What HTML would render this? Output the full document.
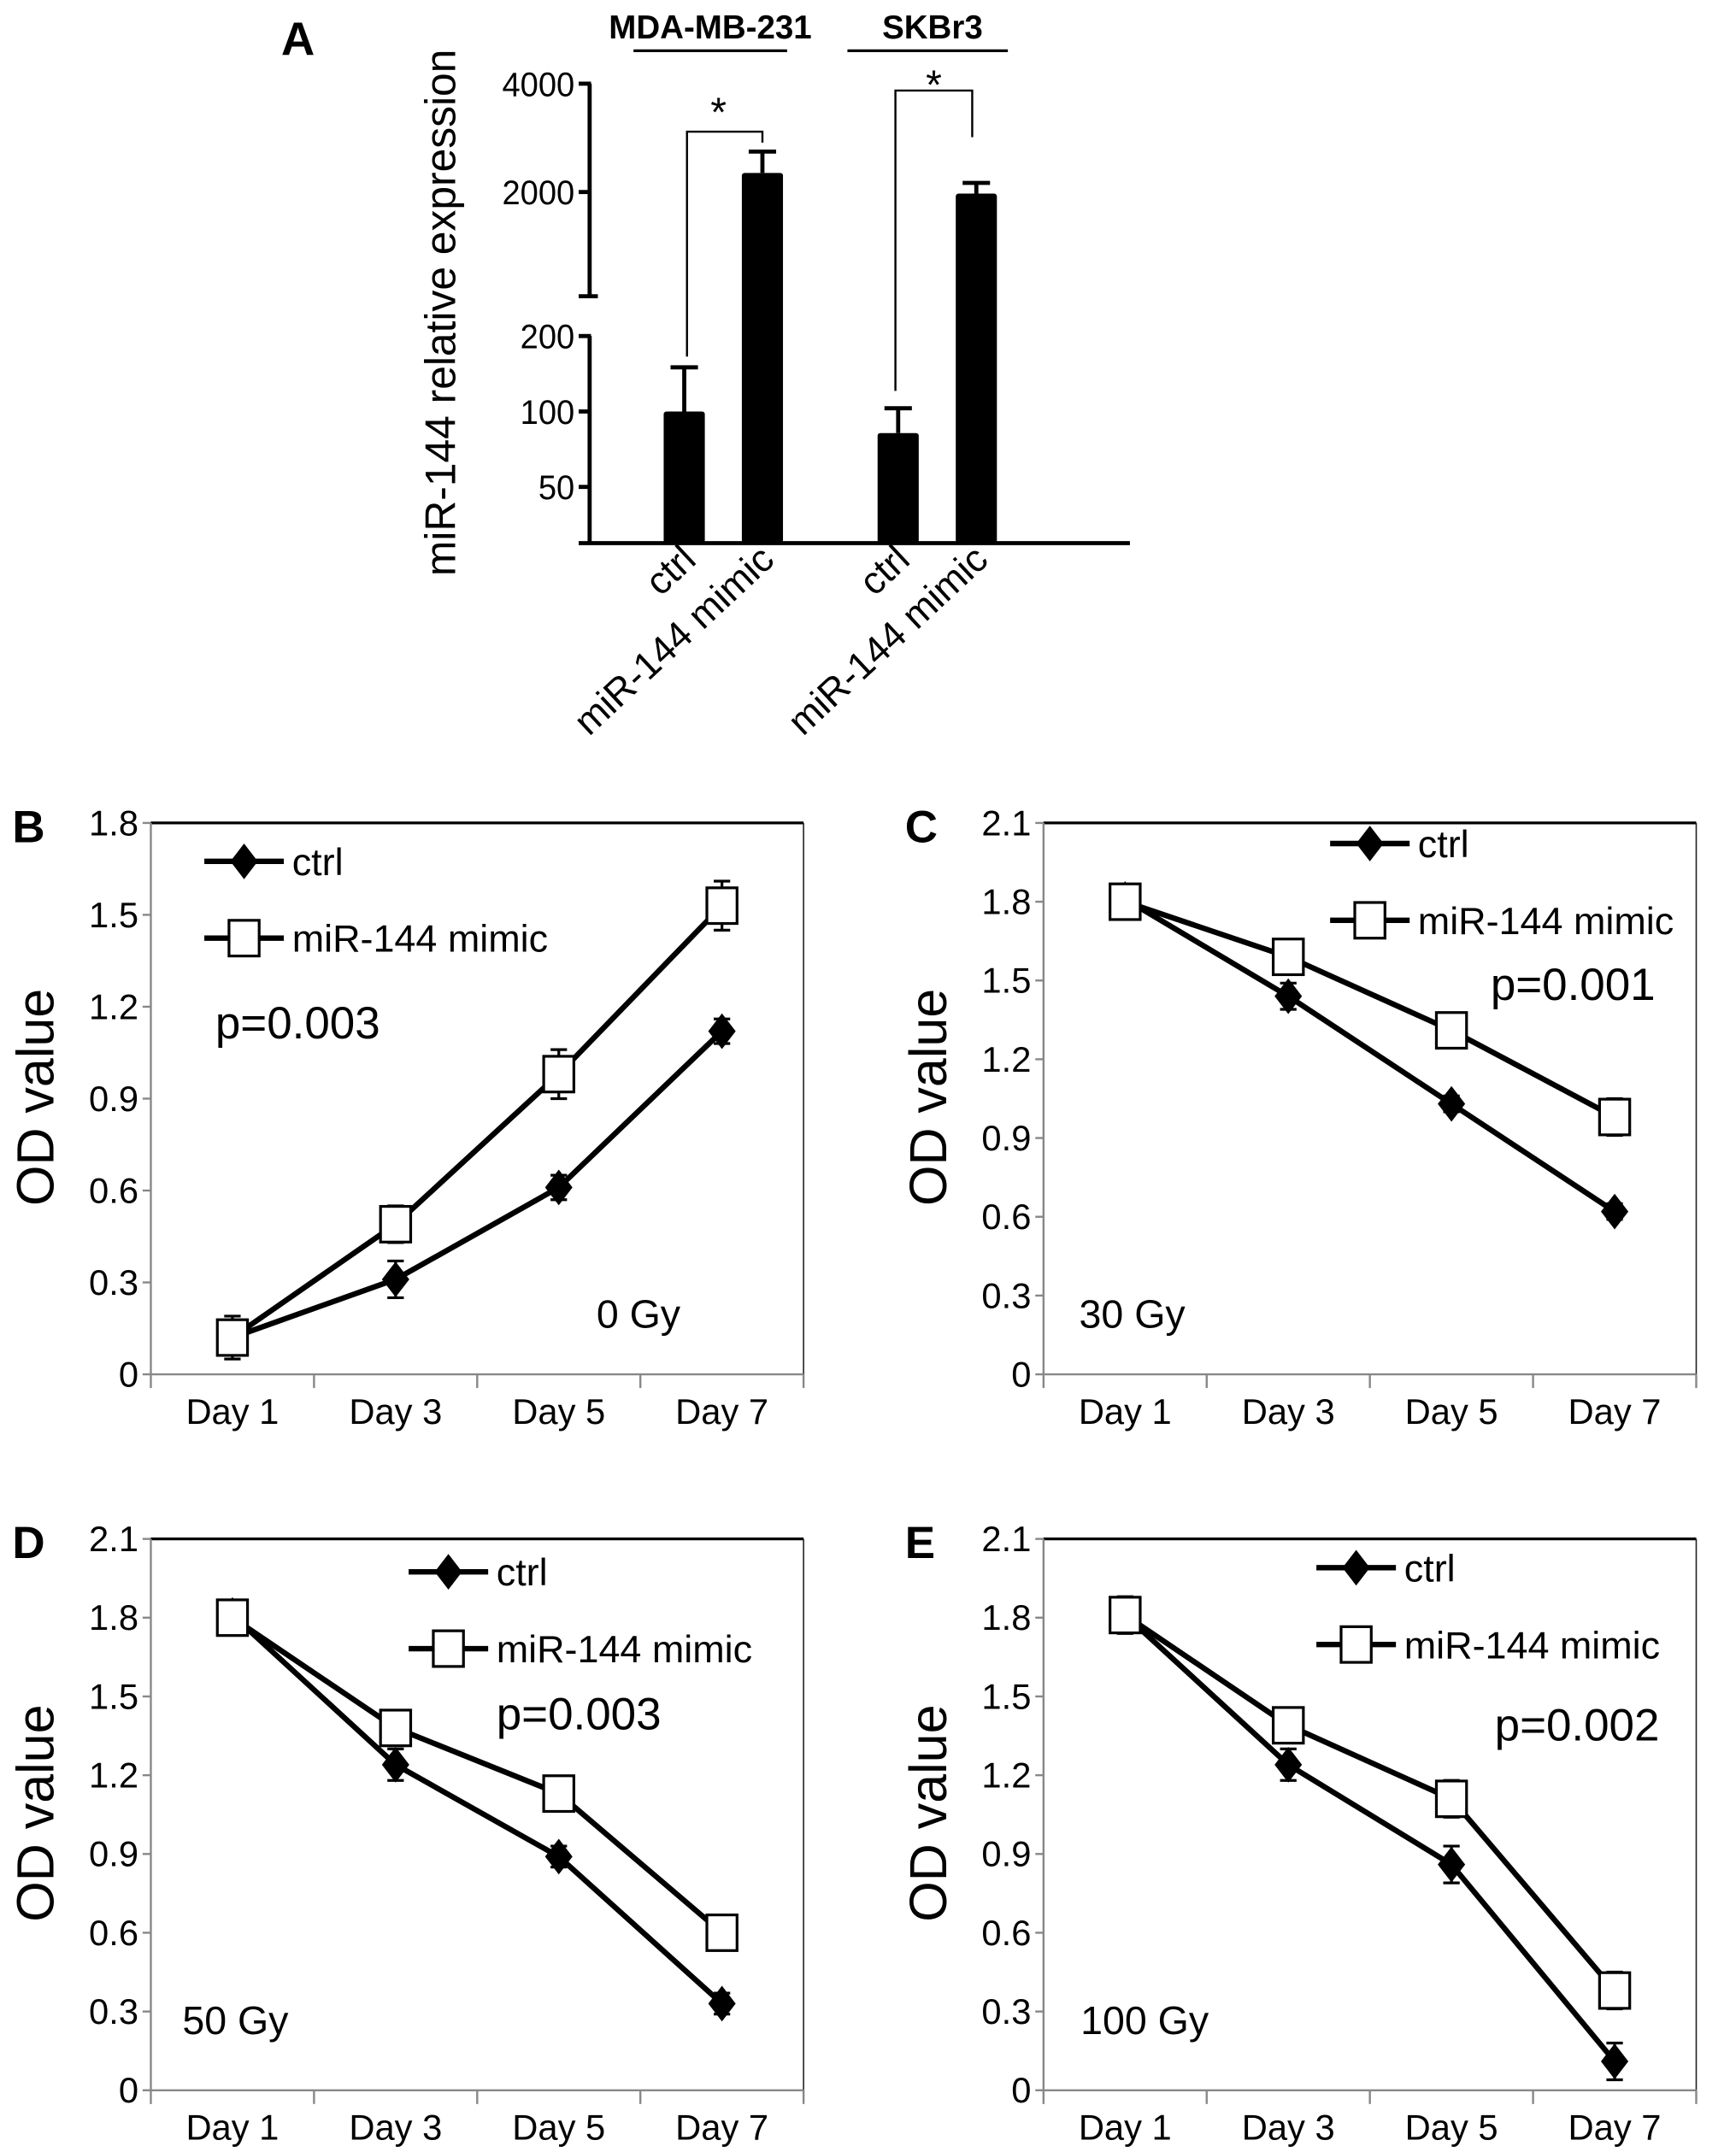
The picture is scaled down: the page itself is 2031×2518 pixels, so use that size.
<!DOCTYPE html>
<html><head><meta charset="utf-8"><style>
html,body{margin:0;padding:0;background:#fff;}
svg{display:block;}
text{font-family:"Liberation Sans",sans-serif;fill:#000;}
.n{font-family:"Liberation Sans Narrow","Liberation Sans",sans-serif;}
</style></head><body>
<svg id="fig" xmlns="http://www.w3.org/2000/svg" width="2031" height="2518" viewBox="0 0 1266 1569" preserveAspectRatio="none"></svg>
<script>
// ---- Panel A data ----
const barCategories = ["ctrl", "miR-144 mimic", "ctrl", "miR-144 mimic"];
const barValues = [100, 2260, 82, 1980];
const barErrors = [50, 330, 21, 140];
const barTickLabels = ["4000", "2000", "200", "100", "50"];
const barTickValues = [4000, 2000, 200, 100, 50];
// ---- Line panels data ----
const days = ["Day 1", "Day 3", "Day 5", "Day 7"];
const ctrlB = [0.12, 0.31, 0.61, 1.12];
const ctrlBErr = [0.03, 0.06, 0.04, 0.04];
const mimicB = [0.12, 0.49, 0.98, 1.53];
const mimicBErr = [0.07, 0.06, 0.08, 0.08];
const ctrlC = [1.81, 1.44, 1.03, 0.62];
const ctrlCErr = [0.02, 0.05, 0.03, 0.03];
const mimicC = [1.80, 1.59, 1.31, 0.98];
const mimicCErr = [0.05, 0.04, 0.06, 0.07];
const ctrlD = [1.81, 1.24, 0.89, 0.33];
const ctrlDErr = [0.02, 0.06, 0.04, 0.04];
const mimicD = [1.80, 1.38, 1.13, 0.60];
const mimicDErr = [0.05, 0.05, 0.06, 0.06];
const ctrlE = [1.81, 1.24, 0.86, 0.11];
const ctrlEErr = [0.02, 0.06, 0.07, 0.07];
const mimicE = [1.81, 1.39, 1.11, 0.38];
const mimicEErr = [0.07, 0.06, 0.07, 0.07];
const ticksB = ["0", "0.3", "0.6", "0.9", "1.2", "1.5", "1.8"];
const ticksCDE = ["0", "0.3", "0.6", "0.9", "1.2", "1.5", "1.8", "2.1"];

const NS = "http://www.w3.org/2000/svg";
const svg = document.getElementById("fig");
function mk(tag, attrs, parent, txt) {
  const e = document.createElementNS(NS, tag);
  for (const k in attrs) e.setAttribute(k, attrs[k]);
  if (txt !== undefined) e.textContent = txt;
  (parent || svg).appendChild(e);
  return e;
}

// ===== Panel A =====
const gA = mk("g", {});


function yA(v) {
  if (v >= 1000) return 140 - 79 * Math.log2(v / 2000);
  return 300 - 55 * Math.log2(v / 100);
}
let t = mk("text", {x: 205, y: 40, "font-size": 34, "font-weight": "bold"}, gA, "A");


t = mk("text", {x: 518, y: 28, "font-size": 24, "font-weight": "bold", "text-anchor": "middle"}, gA, "MDA-MB-231");


mk("line", {x1: 462, x2: 574, y1: 37, y2: 37, stroke: "#000", "stroke-width": 2}, gA);
t = mk("text", {x: 680, y: 28, "font-size": 24, "font-weight": "bold", "text-anchor": "middle"}, gA, "SKBr3");


mk("line", {x1: 618, x2: 735, y1: 37, y2: 37, stroke: "#000", "stroke-width": 2}, gA);
t = mk("text", {x: 0, y: 0, "font-size": 31, "text-anchor": "middle", transform: "translate(332,228) rotate(-90)"}, gA, "miR-144 relative expression");


// axis
mk("line", {x1: 430, x2: 430, y1: yA(4000), y2: 216, stroke: "#000", "stroke-width": 3}, gA);
mk("line", {x1: 422, x2: 436, y1: 216, y2: 216, stroke: "#000", "stroke-width": 3}, gA);
mk("line", {x1: 430, x2: 430, y1: yA(200), y2: 397, stroke: "#000", "stroke-width": 3}, gA);
mk("line", {x1: 422, x2: 824, y1: 396, y2: 396, stroke: "#000", "stroke-width": 3}, gA);
barTickValues.forEach((v, i) => {
  mk("line", {x1: 422, x2: 431, y1: yA(v), y2: yA(v), stroke: "#000", "stroke-width": 3}, gA);
  const tl = mk("text", {x: 419, y: yA(v) + 9, "font-size": 25, "text-anchor": "end", class: "n", textLength: 22 * barTickLabels[i].length * 0.6, lengthAdjust: "spacingAndGlyphs"}, gA, barTickLabels[i]);
  
  
});
const barCenters = [499, 556, 655, 712];
barValues.forEach((v, i) => {
  const cx = barCenters[i], top = yA(v), et = yA(v + barErrors[i]);
  const r = mk("rect", {x: cx - 15, y: top, width: 30, height: 396 - top, fill: "#000", rx: 2}, gA);
  
  
  mk("line", {x1: cx, x2: cx, y1: top, y2: et, stroke: "#000", "stroke-width": 3}, gA);
  mk("line", {x1: cx - 10, x2: cx + 10, y1: et, y2: et, stroke: "#000", "stroke-width": 3}, gA);
  const xl = mk("text", {x: 0, y: 0, "font-size": 28, "text-anchor": "end", transform: "translate(" + (cx + 10) + ",410) rotate(-43)"}, gA, barCategories[i]);
  
  
});
// significance brackets
mk("polyline", {points: "501,260 501,96 556,96 556,104", fill: "none", stroke: "#000", "stroke-width": 1.5}, gA);
t = mk("text", {x: 524, y: 92, "font-size": 30, "text-anchor": "middle"}, gA, "*");


mk("polyline", {points: "653,285 653,66 709,66 709,100", fill: "none", stroke: "#000", "stroke-width": 1.5}, gA);
t = mk("text", {x: 681, y: 72, "font-size": 30, "text-anchor": "middle"}, gA, "*");



// ===== Line panels =====
function linePanel(o) {
  const g = mk("g", {});
  
  
  const L = o.left, R = o.left + 476, T = o.top, B = o.top + 402;
  const yMax = o.ticks.length - 1;
  const y = v => B - (v / (0.3 * yMax)) * (B - T);
  const cw = (R - L) / days.length;
  const x = i => L + cw * (i + 0.5);
  let lb = mk("text", {x: o.left - 101, y: T + 14, "font-size": 33, "font-weight": "bold"}, g, o.id.toUpperCase());
  
  
  lb = mk("text", {x: 0, y: 0, "font-size": 38, "text-anchor": "middle", transform: "translate(" + (o.left - 71) + "," + (T + 200) + ") rotate(-90)"}, g, "OD value");
  
  
  // frame
  mk("line", {x1: L, x2: R, y1: T, y2: T, stroke: "#000", "stroke-width": 2}, g);
  mk("line", {x1: R, x2: R, y1: T, y2: B, stroke: "#222", "stroke-width": 1}, g);
  mk("line", {x1: L, x2: L, y1: T, y2: B + 10, stroke: "#888", "stroke-width": 1.5}, g);
  mk("line", {x1: L, x2: R, y1: B, y2: B, stroke: "#888", "stroke-width": 1.5}, g);
  o.ticks.forEach((s, i) => {
    const yy = y(i * 0.3);
    mk("line", {x1: L - 6, x2: L, y1: yy, y2: yy, stroke: "#888", "stroke-width": 1.5}, g);
    const tl = mk("text", {x: L - 9, y: yy + 9, "font-size": 26, "text-anchor": "end", class: "n"}, g, s);
    
    
  });
  days.forEach((d, i) => {
    const xx = L + cw * (i + 1);
    mk("line", {x1: xx, x2: xx, y1: B, y2: B + 10, stroke: "#888", "stroke-width": 1.5}, g);
    const tl = mk("text", {x: x(i), y: B + 36, "font-size": 26, "text-anchor": "middle", class: "n"}, g, d);
    
    
  });
  function series(vals, errs, kind) {
    const pl = mk("polyline", {points: vals.map((v, i) => x(i) + "," + y(v)).join(" "), fill: "none", stroke: "#000", "stroke-width": 4}, g);
    
    
    vals.forEach((v, i) => {
      const cx = x(i), cy = y(v);
      const e1 = y(v + errs[i]), e2 = y(v - errs[i]);
      mk("line", {x1: cx, x2: cx, y1: e1, y2: e2, stroke: "#000", "stroke-width": 2}, g);
      mk("line", {x1: cx - 6, x2: cx + 6, y1: e1, y2: e1, stroke: "#000", "stroke-width": 2}, g);
      mk("line", {x1: cx - 6, x2: cx + 6, y1: e2, y2: e2, stroke: "#000", "stroke-width": 2}, g);
      let m;
      if (kind === "ctrl") m = mk("polygon", {points: `${cx},${cy - 13} ${cx + 10},${cy} ${cx},${cy + 13} ${cx - 10},${cy}`, fill: "#000"}, g);
      else m = mk("rect", {x: cx - 11, y: cy - 13, width: 22, height: 26, fill: "#fff", stroke: "#000", "stroke-width": 2}, g);
      
      
    });
  }
  series(o.ctrl, o.ctrlErr, "ctrl");
  series(o.mimic, o.mimicErr, "mimic");
  // legend
  const lx = o.leg[0], ly = o.leg[1];
  mk("line", {x1: lx, x2: lx + 58, y1: ly, y2: ly, stroke: "#000", "stroke-width": 4}, g);
  mk("polygon", {points: `${lx + 29},${ly - 13} ${lx + 39},${ly} ${lx + 29},${ly + 13} ${lx + 19},${ly}`, fill: "#000"}, g);
  lb = mk("text", {x: lx + 64, y: ly + 10, "font-size": 28, class: "n"}, g, "ctrl");
  
  
  mk("line", {x1: lx, x2: lx + 58, y1: ly + 56, y2: ly + 56, stroke: "#000", "stroke-width": 4}, g);
  mk("rect", {x: lx + 18, y: ly + 43, width: 22, height: 26, fill: "#fff", stroke: "#000", "stroke-width": 2}, g);
  lb = mk("text", {x: lx + 64, y: ly + 66, "font-size": 28, class: "n"}, g, "miR-144 mimic");
  
  
  lb = mk("text", {x: o.p[0], y: o.p[1], "font-size": 33, class: "n"}, g, o.pText);
  
  
  lb = mk("text", {x: o.gy[0], y: o.gy[1], "font-size": 29, class: "n"}, g, o.gyText);
  
  
}
linePanel({id: "b", left: 110, top: 600, ticks: ticksB, ctrl: ctrlB, ctrlErr: ctrlBErr, mimic: mimicB, mimicErr: mimicBErr, leg: [149, 628], p: [157, 757], pText: "p=0.003", gy: [435, 968], gyText: "0 Gy"});
linePanel({id: "c", left: 761, top: 600, ticks: ticksCDE, ctrl: ctrlC, ctrlErr: ctrlCErr, mimic: mimicC, mimicErr: mimicCErr, leg: [970, 615], p: [1087, 729], pText: "p=0.001", gy: [787, 968], gyText: "30 Gy"});
linePanel({id: "d", left: 110, top: 1122, ticks: ticksCDE, ctrl: ctrlD, ctrlErr: ctrlDErr, mimic: mimicD, mimicErr: mimicDErr, leg: [298, 1146], p: [362, 1261], pText: "p=0.003", gy: [133, 1483], gyText: "50 Gy"});
linePanel({id: "e", left: 761, top: 1122, ticks: ticksCDE, ctrl: ctrlE, ctrlErr: ctrlEErr, mimic: mimicE, mimicErr: mimicEErr, leg: [960, 1143], p: [1090, 1269], pText: "p=0.002", gy: [788, 1483], gyText: "100 Gy"});
</script>
</body></html>
